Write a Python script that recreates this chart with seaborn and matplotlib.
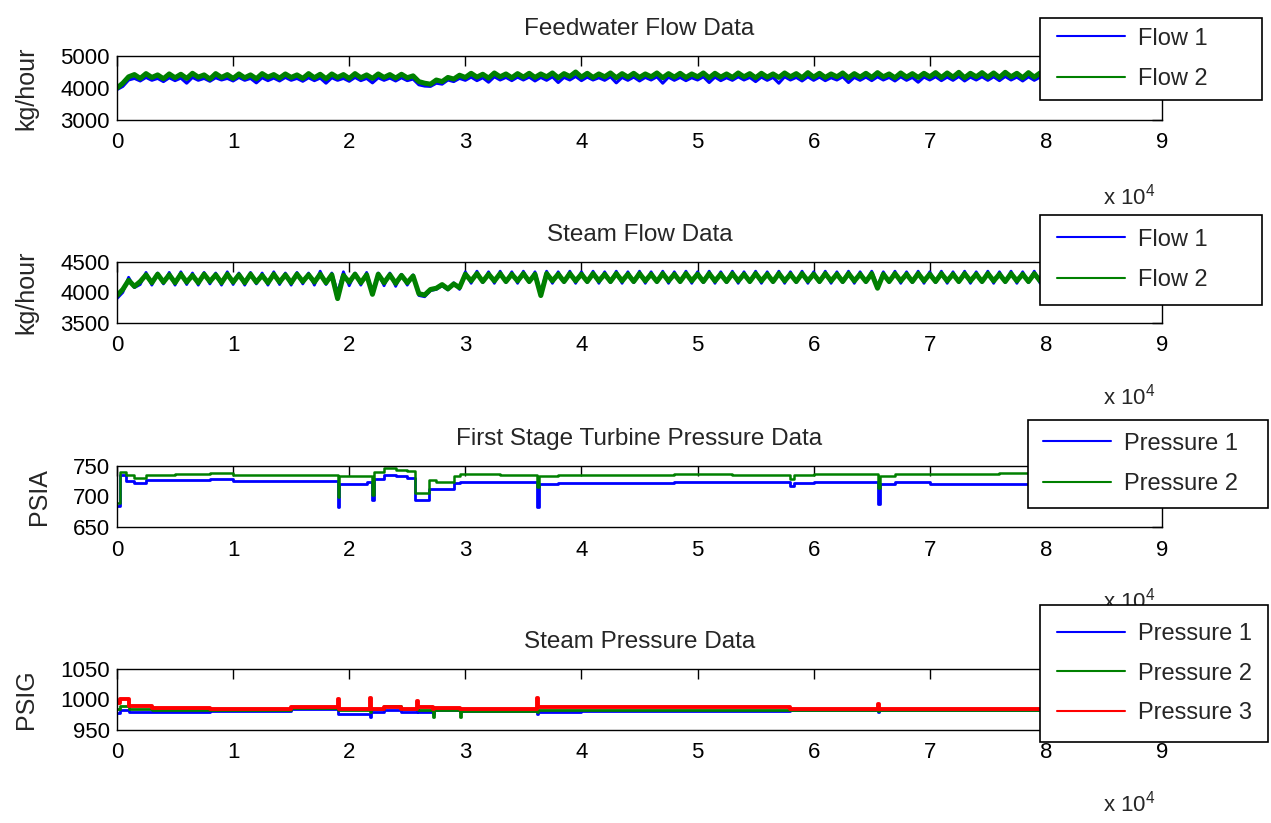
import matplotlib
matplotlib.use("Agg")
import matplotlib.pyplot as plt
import seaborn as sns
import pandas as pd
from matplotlib.lines import Line2D
from matplotlib.patches import Rectangle

# ---------------- data ----------------
flow_x = list(range(0, 80001, 500))

fw_flow1 = [3950, 4050, 4250, 4300, 4220, 4330, 4240, 4300, 4200, 4320,
            4230, 4310, 4150, 4330, 4240, 4300, 4210, 4320, 4250, 4300,
            4220, 4330, 4240, 4300, 4160, 4320, 4230, 4310, 4220, 4330,
            4240, 4300, 4210, 4320, 4230, 4310, 4150, 4320, 4240, 4300,
            4210, 4330, 4230, 4300, 4160, 4320, 4240, 4310, 4220, 4320,
            4230, 4280, 4100, 4060, 4050, 4150, 4120, 4250, 4200, 4300,
            4240, 4340, 4230, 4320, 4180, 4350, 4250, 4330, 4230, 4340,
            4250, 4340, 4220, 4330, 4240, 4350, 4170, 4330, 4250, 4360,
            4230, 4340, 4250, 4320, 4240, 4350, 4160, 4330, 4240, 4340,
            4220, 4330, 4250, 4350, 4150, 4340, 4240, 4330, 4230, 4320,
            4250, 4350, 4170, 4340, 4230, 4320, 4240, 4350, 4250, 4330,
            4200, 4340, 4240, 4330, 4150, 4350, 4250, 4330, 4220, 4350,
            4240, 4340, 4230, 4320, 4250, 4350, 4170, 4330, 4240, 4340,
            4230, 4350, 4250, 4330, 4220, 4350, 4240, 4330, 4180, 4340,
            4250, 4350, 4230, 4340, 4240, 4360, 4220, 4340, 4250, 4350,
            4240, 4350, 4230, 4360, 4250, 4340, 4220, 4350, 4240, 4340,
            4300]
fw_flow2 = [4000, 4150, 4350, 4420, 4300, 4450, 4330, 4410, 4290, 4440,
            4320, 4430, 4300, 4460, 4340, 4410, 4280, 4450, 4330, 4420,
            4300, 4440, 4320, 4410, 4290, 4450, 4340, 4420, 4310, 4440,
            4330, 4410, 4300, 4450, 4320, 4430, 4290, 4440, 4330, 4420,
            4300, 4450, 4320, 4410, 4300, 4440, 4330, 4420, 4310, 4430,
            4320, 4380, 4200, 4150, 4120, 4250, 4200, 4330, 4280, 4400,
            4330, 4460, 4340, 4430, 4310, 4470, 4350, 4440, 4320, 4450,
            4340, 4460, 4330, 4440, 4350, 4470, 4320, 4450, 4360, 4500,
            4340, 4460, 4330, 4440, 4350, 4470, 4320, 4450, 4340, 4460,
            4330, 4440, 4350, 4470, 4320, 4450, 4340, 4460, 4330, 4440,
            4350, 4470, 4320, 4460, 4340, 4440, 4330, 4470, 4350, 4450,
            4320, 4460, 4340, 4440, 4330, 4470, 4350, 4450, 4320, 4480,
            4340, 4460, 4330, 4440, 4350, 4470, 4320, 4450, 4340, 4460,
            4330, 4480, 4350, 4440, 4320, 4470, 4340, 4450, 4330, 4460,
            4350, 4480, 4330, 4470, 4340, 4490, 4320, 4460, 4350, 4480,
            4340, 4470, 4330, 4490, 4350, 4460, 4320, 4480, 4340, 4470,
            4400]

sf_flow1 = [3900, 4000, 4250, 4080, 4130, 4330, 4120, 4320, 4140, 4330,
            4120, 4340, 4130, 4320, 4120, 4330, 4140, 4320, 4120, 4340,
            4130, 4320, 4120, 4330, 4140, 4320, 4120, 4340, 4130, 4320,
            4120, 4330, 4140, 4320, 4120, 4350, 4130, 4320, 4000, 4340,
            4110, 4320, 4120, 4330, 4000, 4320, 4110, 4320, 4100, 4300,
            4120, 4290, 3950, 3930, 4030, 4050, 4110, 4040, 4160, 4050,
            4340, 4150, 4350, 4160, 4340, 4150, 4350, 4160, 4340, 4150,
            4350, 4160, 4340, 4000, 4350, 4150, 4340, 4160, 4350, 4150,
            4340, 4160, 4350, 4150, 4340, 4160, 4350, 4150, 4340, 4160,
            4350, 4150, 4340, 4160, 4350, 4150, 4340, 4160, 4350, 4150,
            4340, 4160, 4350, 4150, 4340, 4160, 4350, 4150, 4340, 4160,
            4350, 4150, 4340, 4160, 4350, 4150, 4340, 4160, 4350, 4150,
            4340, 4160, 4350, 4150, 4340, 4160, 4350, 4150, 4340, 4160,
            4350, 4100, 4340, 4160, 4350, 4150, 4340, 4160, 4350, 4150,
            4340, 4160, 4350, 4150, 4340, 4160, 4350, 4150, 4340, 4160,
            4350, 4150, 4340, 4160, 4350, 4150, 4340, 4160, 4350, 4150,
            4280]
sf_flow2 = [3950, 4050, 4200, 4100, 4180, 4290, 4160, 4300, 4170, 4290,
            4160, 4300, 4170, 4280, 4160, 4300, 4180, 4290, 4160, 4300,
            4170, 4290, 4160, 4300, 4170, 4280, 4160, 4300, 4170, 4290,
            4160, 4300, 4180, 4290, 4170, 4300, 4160, 4290, 3900, 4280,
            4170, 4300, 4160, 4290, 3970, 4300, 4160, 4290, 4150, 4280,
            4160, 4270, 3980, 3960, 4050, 4070, 4130, 4060, 4140, 4080,
            4300, 4190, 4310, 4180, 4300, 4190, 4310, 4180, 4300, 4190,
            4310, 4180, 4300, 3950, 4310, 4190, 4300, 4180, 4310, 4190,
            4300, 4180, 4310, 4190, 4300, 4180, 4310, 4190, 4300, 4180,
            4310, 4190, 4300, 4180, 4310, 4190, 4300, 4180, 4310, 4190,
            4300, 4180, 4310, 4190, 4300, 4180, 4310, 4190, 4300, 4180,
            4310, 4190, 4300, 4180, 4310, 4190, 4300, 4180, 4310, 4190,
            4300, 4180, 4310, 4190, 4300, 4180, 4310, 4190, 4300, 4180,
            4310, 4070, 4300, 4180, 4310, 4190, 4300, 4180, 4310, 4190,
            4300, 4180, 4310, 4190, 4300, 4180, 4310, 4190, 4300, 4180,
            4310, 4190, 4300, 4180, 4310, 4190, 4300, 4180, 4310, 4190,
            4250]

tp_x = [0, 300, 800, 1500, 2500, 5000, 8000, 10000, 14000, 18500,
        19000, 19150, 21500, 22000, 22150, 23000, 24000, 25000, 25700, 26900,
        27500, 29000, 29500, 33000, 36200, 36350, 38000, 44000, 48000, 53000,
        58000, 58300, 60000, 65500, 65700, 67000, 70000, 76000, 80000]
tp_press1 = [685, 735, 725, 722, 727, 727, 728, 726, 726, 725,
             683, 721, 723, 695, 728, 736, 733, 731, 695, 712,
             712, 722, 724, 723, 683, 720, 722, 722, 723, 723,
             718, 722, 723, 688, 720, 723, 720, 721, 721]
tp_press2 = [690, 740, 735, 730, 736, 737, 738, 736, 736, 735,
             700, 733, 734, 702, 740, 747, 744, 741, 706, 727,
             724, 733, 737, 736, 715, 733, 736, 735, 737, 736,
             728, 735, 737, 714, 733, 737, 737, 738, 738]

sp_x = [0, 300, 1000, 3000, 8000, 15000, 19000, 19100, 21800, 21900,
        23000, 24500, 25800, 25900, 27200, 27300, 29500, 29600, 36200, 36300,
        40000, 58000, 65500, 65600, 80000]
sp_press1 = [978, 982, 980, 980, 981, 985, 976, 977, 972, 980,
             983, 980, 982, 980, 976, 982, 980, 981, 976, 980,
             981, 982, 979, 982, 982]
sp_press2 = [985, 990, 985, 983, 983, 986, 983, 982, 980, 985,
             990, 984, 985, 983, 971, 982, 972, 981, 980, 982,
             983, 982, 981, 982, 982]
sp_press3 = [995, 1000, 990, 986, 985, 988, 1000, 984, 1003, 985,
             988, 985, 997, 988, 985, 986, 984, 984, 1003, 987,
             987, 985, 992, 985, 985]

x_tick_labels = ["0", "1", "2", "3", "4", "5", "6", "7", "8", "9"]

# ---------------- style ----------------
sns.set_style("white")
FAM = ["Liberation Sans", "DejaVu Sans"]
plt.rcParams["font.family"] = FAM
plt.rcParams["mathtext.fontset"] = "custom"
plt.rcParams["mathtext.rm"] = FAM[0]
TICK_FS = 16
TITLE_FS = 17.5
LEG_FS = 17
LAB_FS = 18

BLUE = (0, 0, 1)
GREEN = (0, 0.5, 0)
RED = (1, 0, 0)

W, H = 1271, 823
fig = plt.figure(figsize=(W / 100, H / 100), dpi=100)

left = 117 / W
width = (1162 - 117) / W
panels = [(56, 120), (262, 323), (466, 527), (669, 730)]
axes = []
for top, bot in panels:
    ax = fig.add_axes([left, 1 - bot / H, width, (bot - top) / H])
    axes.append(ax)


def style_axis(ax, yticks, ylabel, title):
    ax.set_xlim(0, 90000)
    ax.set_xticks(range(0, 90001, 10000))
    ax.set_xticklabels(x_tick_labels)
    ax.set_ylim(yticks[0], yticks[-1])
    ax.set_yticks(yticks)
    ax.set_yticklabels([str(v) for v in yticks])
    ax.tick_params(direction="in", top=True, right=True, length=7, width=1,
                   labelsize=TICK_FS, colors="black")
    ax.tick_params(axis="x", pad=9)
    ax.tick_params(axis="y", pad=5)
    for s in ax.spines.values():
        s.set_color("black")
        s.set_linewidth(1)
        s.set_visible(True)
    ax.set_xlabel("")
    ax.set_ylabel(ylabel, fontsize=LAB_FS, labelpad=16)
    ax.set_title(title, fontsize=TITLE_FS, pad=15)
    ax.text(0.969, -1.2, r"x 10$^{4}$", transform=ax.transAxes, ha="center",
            va="center", fontsize=TICK_FS, clip_on=False)


def add_legend(ax, labels, colors, box, handle_left, spacing):
    x0, y0, x1, y1 = box
    rect = Rectangle((x0 / W, 1 - y1 / H), (x1 - x0) / W, (y1 - y0) / H,
                     transform=fig.transFigure, facecolor="white",
                     edgecolor="black", linewidth=1.2, clip_on=False, zorder=9)
    ax.add_artist(rect)
    handles = [Line2D([0], [0], color=c, lw=1.5) for c in colors]
    leg = ax.legend(handles, labels, loc="center left",
                    bbox_to_anchor=(handle_left / W, 1 - (y0 + y1) / 2 / H),
                    bbox_transform=fig.transFigure, borderaxespad=0,
                    borderpad=0, frameon=False, fontsize=LEG_FS,
                    handlelength=2.9, labelspacing=spacing, handletextpad=0.55)
    leg.set_zorder(10)


# Panel 1: Feedwater flow
ax = axes[0]
df = pd.DataFrame({"x": flow_x, "Flow 1": fw_flow1, "Flow 2": fw_flow2})
sns.lineplot(data=df, x="x", y="Flow 1", ax=ax, color=BLUE, lw=2.2, legend=False)
sns.lineplot(data=df, x="x", y="Flow 2", ax=ax, color=GREEN, lw=3.6, legend=False)
style_axis(ax, [3000, 4000, 5000], "kg/hour", "Feedwater Flow Data")
add_legend(ax, ["Flow 1", "Flow 2"], [BLUE, GREEN], (1040, 18, 1262, 100), 1057, 0.8)

# Panel 2: Steam flow
ax = axes[1]
df = pd.DataFrame({"x": flow_x, "Flow 1": sf_flow1, "Flow 2": sf_flow2})
sns.lineplot(data=df, x="x", y="Flow 1", ax=ax, color=BLUE, lw=2.0, legend=False)
sns.lineplot(data=df, x="x", y="Flow 2", ax=ax, color=GREEN, lw=3.6, legend=False)
style_axis(ax, [3500, 4000, 4500], "kg/hour", "Steam Flow Data")
add_legend(ax, ["Flow 1", "Flow 2"], [BLUE, GREEN], (1040, 215, 1262, 305), 1057, 0.8)

# Panel 3: First stage turbine pressure
ax = axes[2]
df = pd.DataFrame({"x": tp_x, "P1": tp_press1, "P2": tp_press2})
sns.lineplot(data=df, x="x", y="P1", ax=ax, color=BLUE, lw=2.0, legend=False,
             drawstyle="steps-post")
sns.lineplot(data=df, x="x", y="P2", ax=ax, color=GREEN, lw=1.8, legend=False,
             drawstyle="steps-post")
style_axis(ax, [650, 700, 750], "PSIA", "First Stage Turbine Pressure Data")
add_legend(ax, ["Pressure 1", "Pressure 2"], [BLUE, GREEN], (1028, 420, 1268, 508), 1043, 0.8)

# Panel 4: Steam pressure
ax = axes[3]
df = pd.DataFrame({"x": sp_x, "P1": sp_press1, "P2": sp_press2, "P3": sp_press3})
sns.lineplot(data=df, x="x", y="P1", ax=ax, color=BLUE, lw=2.0, legend=False,
             drawstyle="steps-post")
sns.lineplot(data=df, x="x", y="P2", ax=ax, color=GREEN, lw=2.0, legend=False,
             drawstyle="steps-post")
sns.lineplot(data=df, x="x", y="P3", ax=ax, color=RED, lw=2.8, legend=False,
             drawstyle="steps-post")
style_axis(ax, [950, 1000, 1050], "PSIG", "Steam Pressure Data")
add_legend(ax, ["Pressure 1", "Pressure 2", "Pressure 3"], [BLUE, GREEN, RED],
           (1040, 605, 1268, 742), 1057, 0.75)

fig.savefig("out.png", dpi=100)
